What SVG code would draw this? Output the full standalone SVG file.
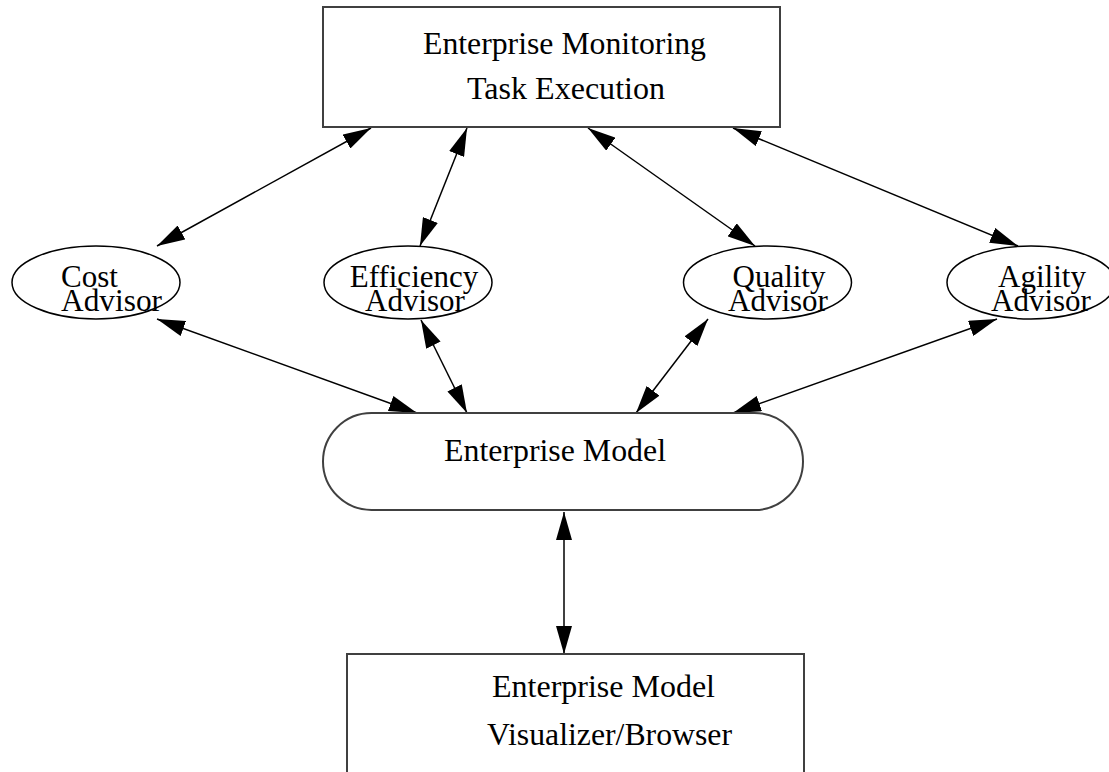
<svg xmlns="http://www.w3.org/2000/svg" width="1109" height="772" viewBox="0 0 1109 772">
<style>
.box{fill:#fff;stroke:#404040;stroke-width:2}
.ell{fill:#fff;stroke:#000;stroke-width:1.5}
.t{font-family:"Liberation Serif","Times New Roman",serif;font-size:31px;fill:#000}
.m{text-anchor:middle}
.c{stroke:#000;stroke-width:1.5;fill:none;marker-start:url(#ah);marker-end:url(#ah)}
</style>
<defs>
<marker id="ah" markerUnits="userSpaceOnUse" markerWidth="28" markerHeight="16" refX="28" refY="8" orient="auto-start-reverse" viewBox="0 0 28 16">
<path d="M0,0 L28,8 L0,16 z" fill="#000"/>
</marker>
</defs>
<rect width="1109" height="772" fill="#fff"/>
<g id="connectors">
<line class="c" x1="157" y1="246" x2="371" y2="128"/>
<line class="c" x1="420" y1="246" x2="467" y2="128"/>
<line class="c" x1="755" y1="246" x2="588" y2="128"/>
<line class="c" x1="1018" y1="246" x2="733" y2="128"/>
<line class="c" x1="157" y1="319" x2="417" y2="413"/>
<line class="c" x1="421" y1="320" x2="467" y2="413"/>
<line class="c" x1="708" y1="319" x2="636" y2="413"/>
<line class="c" x1="997" y1="319" x2="733" y2="413"/>
<line class="c" x1="564" y1="512" x2="564" y2="654"/>
</g>
<g id="monitoring">
<rect class="box" x="323" y="7" width="457" height="120"/>
<text class="t" x="423" y="54" textLength="283" lengthAdjust="spacingAndGlyphs">Enterprise Monitoring</text>
<text class="t" x="467" y="99" textLength="198" lengthAdjust="spacingAndGlyphs">Task Execution</text>
</g>
<g id="cost">
<ellipse class="ell" cx="96" cy="282.5" rx="84" ry="36.5"/>
<text class="t" x="61" y="287">Cost</text>
<text class="t" x="61" y="311" textLength="101" lengthAdjust="spacingAndGlyphs">Advisor</text>
</g>
<g id="efficiency">
<ellipse class="ell" cx="408" cy="282.5" rx="84" ry="36.5"/>
<text class="t m" x="414" y="287">Efficiency</text>
<text class="t m" x="415" y="311">Advisor</text>
</g>
<g id="quality">
<ellipse class="ell" cx="767.5" cy="282.5" rx="84" ry="36.5"/>
<text class="t m" x="779" y="287">Quality</text>
<text class="t m" x="778" y="311">Advisor</text>
</g>
<g id="agility">
<ellipse class="ell" cx="1031" cy="282.5" rx="84" ry="36.5"/>
<text class="t m" x="1042" y="287">Agility</text>
<text class="t m" x="1041" y="311">Advisor</text>
</g>
<g id="model">
<rect class="box" x="323" y="413" width="480" height="97" rx="48.5" ry="48.5"/>
<text class="t" x="444" y="461" textLength="222" lengthAdjust="spacingAndGlyphs">Enterprise Model</text>
</g>
<g id="visualizer">
<rect class="box" x="347" y="654" width="457" height="140"/>
<text class="t" x="492" y="697" textLength="223" lengthAdjust="spacingAndGlyphs">Enterprise Model</text>
<text class="t" x="487" y="745" textLength="245" lengthAdjust="spacingAndGlyphs">Visualizer/Browser</text>
</g>
</svg>
